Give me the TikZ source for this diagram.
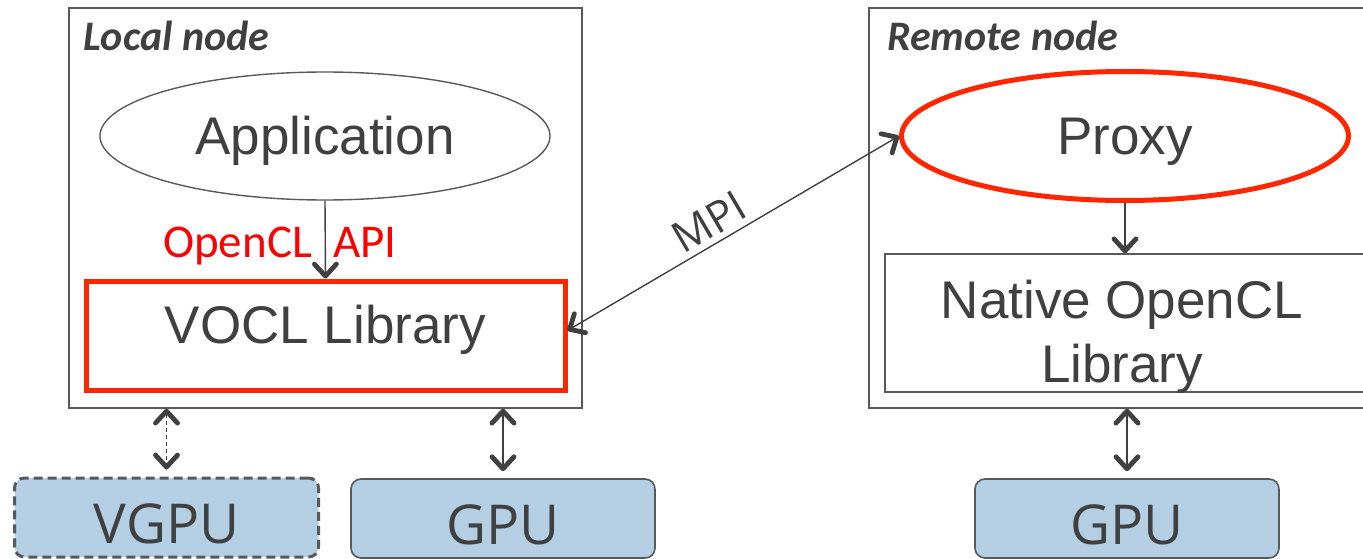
\documentclass[tikz,border=0pt]{standalone}
\usepackage{fontspec}
\setmainfont{Liberation Sans}
\newfontfamily\calibri{Carlito}
\newfontfamily\opensans{Open Sans}
\usetikzlibrary{arrows.meta,shapes.geometric}
\definecolor{ink}{HTML}{404040}
\definecolor{edge}{HTML}{595959}
\definecolor{hot}{HTML}{FF2600}
\definecolor{gpufill}{HTML}{B4CFE3}

\begin{document}
\begin{tikzpicture}[x=1pt,y=-1pt,
  >={Straight Barb[length=12pt,width=22pt,line width=4.8pt,round]},
  frame/.style={draw=edge,line width=1.4pt,inner sep=0pt},
  title/.style={font=\calibri\bfseries\itshape\fontsize{42}{48}\selectfont,text=ink,anchor=base west,inner sep=0pt},
  bigtext/.style={font=\fontsize{53}{64}\selectfont,text=ink},
  oval/.style={ellipse,inner sep=0pt,bigtext,text height=38pt,text depth=0pt},
  device/.style={rounded corners=10pt,fill=gpufill,draw=edge,line width=1.6pt,
    minimum width=304pt,minimum height=79pt,inner sep=0pt,
    font=\opensans\fontsize{55}{60}\selectfont,text=ink,text height=52pt,text depth=0pt},
  link/.style={draw=ink,line width=1.4pt},
]
\useasboundingbox (0,0) rectangle (1363,559);
\clip (0,0) rectangle (1363,559);

% local machine
\node[frame,minimum width=513pt,minimum height=400pt] (local) at (325.5,208) {};
\node[title] (localtitle) at (83,51) {Local node};
\node[oval,draw=edge,line width=1.4pt,minimum width=450pt,minimum height=128pt] (app) at (325,136) {Application};
\node[draw=hot,line width=5pt,minimum width=479pt,minimum height=109pt,inner sep=0pt,
      bigtext,text height=38pt,text depth=23pt] (vocl) at (325.5,335.5) {VOCL Library};
\node[font=\calibri\fontsize{47}{52}\selectfont,text=red,anchor=base west,inner sep=0pt] (api) at (163,257) {OpenCL~~API};

% remote machine
\node[frame,minimum width=512pt,minimum height=400pt] (remote) at (1125,208) {};
\node[title] (remotetitle) at (887,51) {Remote node};
\node[oval,draw=hot,line width=5pt,minimum width=447pt,minimum height=129pt] (proxy) at (1125,136) {Proxy};
\node[frame,minimum width=480pt,minimum height=138pt] (native) at (1125,323) {};
\node[bigtext,align=center,inner sep=0pt] (nativetext) at (1122,336.5) {Native OpenCL\\Library};

% devices
\node[device,dash pattern=on 9pt off 5pt,line width=3pt] (vgpu) at (166.5,517.5) {VGPU};
\node[device] (gpu) at (503,518.5) {GPU};
\node[device] (rgpu) at (1127,518.5) {GPU};

% connectors
\draw[link,->] (app.south) -- (vocl.north);
\draw[link,->] (proxy.south) -- (native.north);
\draw[link,<->] ([yshift=5pt]vocl.east) -- node[pos=0.46,sloped,above=6pt,inner sep=0pt,
  font=\opensans\fontsize{43}{48}\selectfont,text=ink] (mpi) {MPI} (proxy.west);
\draw[link,<->,line width=1pt,dash pattern=on 4pt off 3pt,shorten >=7pt] (vgpu.north |- local.south) -- (vgpu.north);
\draw[link,<->,shorten >=7pt] (gpu.north |- local.south) -- (gpu.north);
\draw[link,<->,shorten >=7pt] (rgpu.north |- remote.south) -- (rgpu.north);
\end{tikzpicture}
\end{document}
